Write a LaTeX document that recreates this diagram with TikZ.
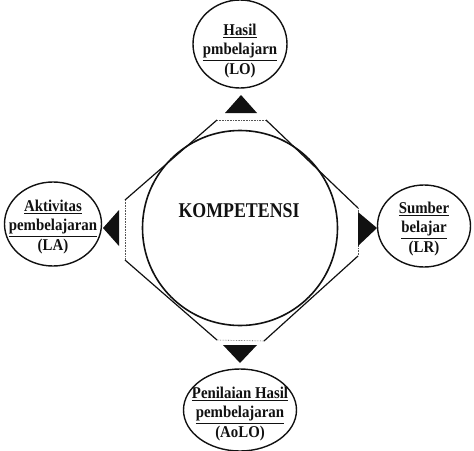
\documentclass[tikz,border=0pt]{standalone}
\usepackage{fontspec}
\usepackage{xcolor}
\usepackage{tikz}
\usetikzlibrary{shapes.geometric}
\newfontfamily\diagfont[FakeStretch=0.9]{Liberation Serif}
\newfontfamily\hubfont[FakeStretch=0.85]{Liberation Serif}
\definecolor{ink}{HTML}{111111}
\definecolor{faint}{HTML}{555555}
\tikzset{
  hub/.style={draw=ink, line width=1.6pt, circle, inner sep=0pt},
  goal/.style={draw=ink, line width=1.4pt, ellipse, inner sep=0pt},
  goaltext/.style={align=center, text=ink, font=\diagfont\bfseries\fontsize{16.5}{19.5}\selectfont},
  hubtext/.style={text=ink, font=\hubfont\bfseries\fontsize{21}{25}\selectfont},
  rim/.style={draw=ink, line width=1.2pt},
  flat/.style={draw=faint, line width=0.6pt, densely dotted},
  tip/.style={fill=ink},
}

\begin{document}
\begin{tikzpicture}[x=1pt,y=-1pt]%
\useasboundingbox (0,0) rectangle (474,450);%
% centre
\node[hub, minimum width=195pt, minimum height=189pt] (komp) at (240,228) {};%
\node[hubtext] (kompt) at (239,211) {KOMPETENSI};%
% outer rim
\draw[rim] (217,120) -- (125,200);%
\draw[rim] (125,260) -- (217,340);%
\draw[rim] (266,120) -- (358,208);%
\draw[rim] (358,256) -- (264,341);%
\draw[flat] (217,120) -- (266,120);%
\draw[flat] (125,200) -- (125,260);%
\draw[flat] (358,208) -- (358,256);%
\draw[flat] (217,340) -- (264,341);%
% arrow heads
\fill[tip] (241,95) -- (257,113) -- (225,113) -- cycle;%
\fill[tip] (240,363) -- (257,345) -- (223,345) -- cycle;%
\fill[tip] (103,228) -- (119,210) -- (119,246) -- cycle;%
\fill[tip] (377,228) -- (358,212) -- (358,246) -- cycle;%
% goals
\node[goal, minimum width=94pt, minimum height=88pt] (lo) at (240,44) {};%
\node[goaltext] (lot) at (240,51) {\underline{Hasil}\\\underline{pmbelajarn}\\(LO)};%
\node[goal, minimum width=97pt, minimum height=84pt] (la) at (53,224) {};%
\node[goaltext] (lat) at (53,227) {\underline{Aktivitas}\\\underline{pembelajaran}\\(LA)};%
\node[goal, minimum width=93pt, minimum height=82pt] (lr) at (424,226) {};%
\node[goaltext] (lrt) at (424,229) {\underline{Sumber}\\\underline{belajar}\\(LR)};%
\node[goal, minimum width=113pt, minimum height=82pt] (aolo) at (240,410) {};%
\node[goaltext] (aolot) at (240,414) {\underline{Penilaian Hasil}\\\underline{pembelajaran}\\(AoLO)};%
\end{tikzpicture}
\end{document}
